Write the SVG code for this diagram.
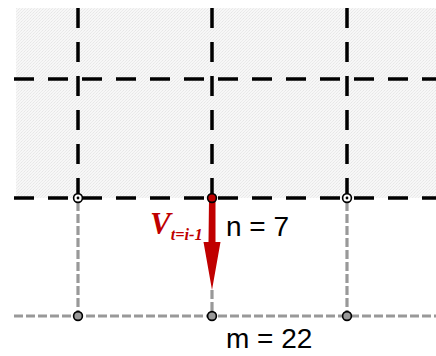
<svg xmlns="http://www.w3.org/2000/svg" width="436" height="356" viewBox="0 0 436 356">
  <defs>
    <pattern id="hatch" width="3" height="3" patternUnits="userSpaceOnUse">
      <rect width="3" height="3" fill="#f7f7f7"/>
      <rect x="0" y="0" width="1" height="1" fill="#e6e6e6"/>
      <rect x="2" y="1" width="1" height="1" fill="#ebebeb"/>
      <rect x="1" y="2" width="1" height="1" fill="#ebebeb"/>
    </pattern>
    <style>
      .blk { stroke: #000; stroke-width: 3.5; stroke-dasharray: 20 14; fill: none; }
      .gry { stroke: #999; stroke-width: 3.2; stroke-dasharray: 9 3; fill: none; }
      .ptop { fill: #fff; stroke: #000; stroke-width: 1.6; }
      .pbot { fill: #999; stroke: #000; stroke-width: 1.6; }
      .lbl { font-family: "Liberation Sans", Arial, sans-serif; font-size: 28px; fill: #000; }
      .vlbl { font-family: "Liberation Serif", "Times New Roman", serif; font-weight: bold; font-style: italic; fill: #c00000; }
    </style>
  </defs>
  <rect x="16" y="8" width="420" height="190" fill="url(#hatch)"/>
  <g id="connectors">
    <line class="blk" x1="78" y1="8" x2="78" y2="198"/>
    <line class="blk" x1="212" y1="8" x2="212" y2="198"/>
    <line class="blk" x1="347" y1="8" x2="347" y2="198"/>
    <line class="blk" x1="14" y1="79" x2="436" y2="79"/>
    <line class="blk" x1="14" y1="198" x2="436" y2="198"/>
    <line class="gry" x1="78" y1="202" x2="78" y2="316"/>
    <line class="gry" x1="347" y1="202" x2="347" y2="316"/>
    <line class="gry" x1="212" y1="290" x2="212" y2="316"/>
    <line class="gry" x1="14" y1="316" x2="436" y2="316"/>
  </g>
  <g id="arrow">
    <polygon points="209,199 215.5,199 215.5,242 220.5,242 212,290 203.5,242 208.5,242" fill="#c00000"/>
  </g>
  <g id="node-top-left">
    <circle class="ptop" cx="78" cy="198" r="4.4"/>
    <circle cx="78" cy="198" r="1.4" fill="#000"/>
  </g>
  <g id="node-top-mid">
    <circle cx="212" cy="198" r="4.4" fill="#c00000" stroke="#000" stroke-width="1.6"/>
  </g>
  <g id="node-top-right">
    <circle class="ptop" cx="347" cy="198" r="4.4"/>
    <circle cx="347" cy="198" r="1.4" fill="#000"/>
  </g>
  <g id="node-bot-left"><circle class="pbot" cx="78" cy="316" r="4.4"/></g>
  <g id="node-bot-mid"><circle class="pbot" cx="212" cy="316" r="4.4"/></g>
  <g id="node-bot-right"><circle class="pbot" cx="347" cy="316" r="4.4"/></g>
  <g id="labels">
    <text class="vlbl" x="150" y="234" font-size="31">V<tspan font-size="16" dy="6" textLength="32" lengthAdjust="spacingAndGlyphs">t=i-1</tspan></text>
    <text class="lbl" x="226" y="236">n = 7</text>
    <text class="lbl" x="226" y="348">m = 22</text>
  </g>
</svg>
